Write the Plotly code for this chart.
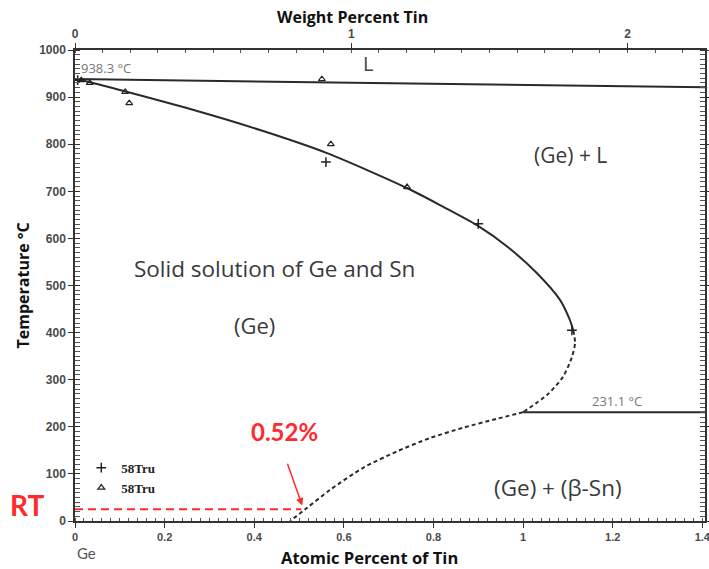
import plotly.graph_objects as go

# ---------------- data ----------------
# upper (L) boundary line
liq_x = [0.0, 1.406]
liq_T = [938.3, 921.0]

# solid solvus/solidus curve
sol_x = [0.0, 0.040, 0.116, 0.263, 0.413, 0.5625, 0.741, 0.820, 0.897, 0.968, 1.030, 1.082, 1.103, 1.112]
sol_T = [938.3, 930, 911, 873, 830, 781, 707, 668, 628, 580, 527, 470, 430, 405]

# dashed retrograde part (upper, down to eutectic)
dash_up_x = [1.112, 1.116, 1.109, 1.089, 1.054, 1.0]
dash_up_T = [405, 378, 348, 306, 268, 231.1]

# dashed solvus below eutectic
dash_lo_x = [1.0, 0.942, 0.866, 0.792, 0.719, 0.643, 0.569, 0.518, 0.48]
dash_lo_T = [231.1, 217, 198, 176, 148, 113, 66, 28, 0]

# eutectic horizontal line
eut_x = [1.0, 1.406]
eut_T = [231.1, 231.1]

# experimental points (58Tru)
plus_x = [0.006, 0.560, 0.900, 1.109]
plus_T = [936, 762, 631, 405]
tri_x = [0.014, 0.033, 0.112, 0.121, 0.551, 0.571, 0.741]
tri_T = [936, 930, 911, 887, 938, 800, 709]

# room temperature marker
rt_x = [0.0, 0.505]
rt_T = [25, 25]

# axes ticks
y_ticks = list(range(0, 1001, 100))
wt_ticks = [0, 1, 2]
wt_labels = ["0", "1", "2"]

LINE = "#2a2a2a"
RED = "#ff2a2a"
TXT = "#3a3a3a"

fig = go.Figure()

fig.add_trace(go.Scatter(x=liq_x, y=liq_T, mode="lines",
                         line=dict(color=LINE, width=2), showlegend=False, hoverinfo="skip"))
fig.add_trace(go.Scatter(x=sol_x, y=sol_T, mode="lines",
                         line=dict(color=LINE, width=2, shape="spline", smoothing=0.7),
                         showlegend=False, hoverinfo="skip"))
fig.add_trace(go.Scatter(x=dash_up_x, y=dash_up_T, mode="lines",
                         line=dict(color=LINE, width=2, dash="4px,3px", shape="spline", smoothing=0.7),
                         showlegend=False, hoverinfo="skip"))
fig.add_trace(go.Scatter(x=dash_lo_x, y=dash_lo_T, mode="lines",
                         line=dict(color=LINE, width=2, dash="4px,3px", shape="spline", smoothing=0.7),
                         showlegend=False, hoverinfo="skip"))
fig.add_trace(go.Scatter(x=eut_x, y=eut_T, mode="lines",
                         line=dict(color=LINE, width=2), showlegend=False, hoverinfo="skip"))
fig.add_trace(go.Scatter(x=rt_x, y=rt_T, mode="lines",
                         line=dict(color=RED, width=2, dash="8px,5px"), showlegend=False, hoverinfo="skip"))

fig.add_trace(go.Scatter(x=plus_x, y=plus_T, mode="markers", name="58Tru",
                         marker=dict(symbol="cross-thin", size=7, color="#222",
                                     line=dict(color="#222", width=1.5))))
fig.add_trace(go.Scatter(x=tri_x, y=tri_T, mode="markers", name="58Tru",
                         marker=dict(symbol="triangle-up-open", size=6, color="#222",
                                     line=dict(color="#222", width=1.2))))

# invisible trace to activate top axis
fig.add_trace(go.Scatter(x=[0, 2.28], y=[None, None], xaxis="x2", mode="lines",
                         showlegend=False, hoverinfo="skip"))

tickfont = dict(family="Liberation Sans", size=11, color="#4a4a4a", weight="bold")

fig.update_layout(
    width=709, height=569,
    margin=dict(l=75, r=4, t=50, b=48),
    paper_bgcolor="white", plot_bgcolor="white",
    xaxis=dict(range=[0, 1.406], dtick=0.2, tick0=0, showgrid=False, zeroline=False, automargin=False,
               showline=True, linecolor="#333", linewidth=1.5, mirror=True, ticklabeloverflow="allow",
               ticks="outside", ticklen=5, tickcolor="#333", tickfont=tickfont,
               minor=dict(dtick=0.02, ticks="inside", ticklen=3, tickcolor="#555")),
    xaxis2=dict(range=[0, 2.2802], overlaying="x", side="top", anchor="y", automargin=False,
                tickvals=wt_ticks, ticktext=wt_labels, showgrid=False, zeroline=False,
                showline=True, linecolor="#333", linewidth=1.5,
                ticks="outside", ticklen=5, tickcolor="#333",
                tickfont=dict(family="Liberation Sans", size=12, color="#4a4a4a", weight="bold"),
                minor=dict(tickvals=[i / 10 for i in range(23)], ticks="inside", ticklen=3, tickcolor="#555")),
    yaxis=dict(range=[0, 1000], tickvals=y_ticks, showgrid=False, zeroline=False, automargin=False,
               showline=True, linecolor="#333", linewidth=1.5, mirror="allticks",
               ticks="outside", ticklen=5, tickcolor="#333",
               tickfont=dict(family="Liberation Sans", size=12, color="#4a4a4a", weight="bold"),
               minor=dict(dtick=10, ticks="inside", ticklen=3, tickcolor="#555")),
    legend=dict(x=0.01, y=0.145, xanchor="left", yanchor="top",
                bgcolor="rgba(255,255,255,0.9)", borderwidth=0,
                font=dict(family="Liberation Serif", size=13, color="#222", weight="bold"),
                itemwidth=30, tracegroupgap=0),
    showlegend=True,
)

ann = []
def txt(x, y, s, size, color=TXT, xref="x", yref="y", bold=False, family="Open Sans", xanchor="center", angle=0):
    ann.append(dict(x=x, y=y, xref=xref, yref=yref, text=s, showarrow=False,
                    xanchor=xanchor, yanchor="middle", textangle=angle,
                    font=dict(family=family, size=size, color=color, weight="bold" if bold else "normal")))

txt(0.01, 962, "938.3 °C", 13, color="#777", xanchor="left")
txt(0.654, 972, "L", 20, color="#444")
txt(1.105, 777, "(Ge) + L", 21)
txt(0.446, 537, "Solid solution of Ge and Sn", 22.5)
txt(0.40, 416, "(Ge)", 22)
txt(1.078, 72, "(Ge) + (β-Sn)", 22.5)
txt(1.21, 255, "231.1 °C", 13, color="#777")
txt(0.4665, 189, "0.52%", 24, color=RED, bold=True, family="Lato")
txt(-0.076, 34, "RT", 28, color=RED, bold=True, family="Lato", xref="paper")
txt(0.018, -0.068, "Ge", 15, color="#555", xref="paper", yref="paper", family="Lato")
txt(0.44, 1.0 + 33 / 471, "Weight Percent Tin", 16, color="#111", xref="paper", yref="paper", bold=True)
txt(0.468, -36 / 471, "Atomic Percent of Tin", 16.5, color="#111", xref="paper", yref="paper", bold=True)
txt(-53 / 630, 0.50, "Temperature °C", 16, color="#111", xref="paper", yref="paper", bold=True, angle=-90)

ann.append(dict(x=0.507, y=33, ax=0.473, ay=125, xref="x", yref="y", axref="x", ayref="y",
                showarrow=True, arrowhead=2, arrowsize=1, arrowwidth=1.5, arrowcolor=RED, text=""))

fig.update_layout(annotations=ann)

fig.write_html("out.html")
